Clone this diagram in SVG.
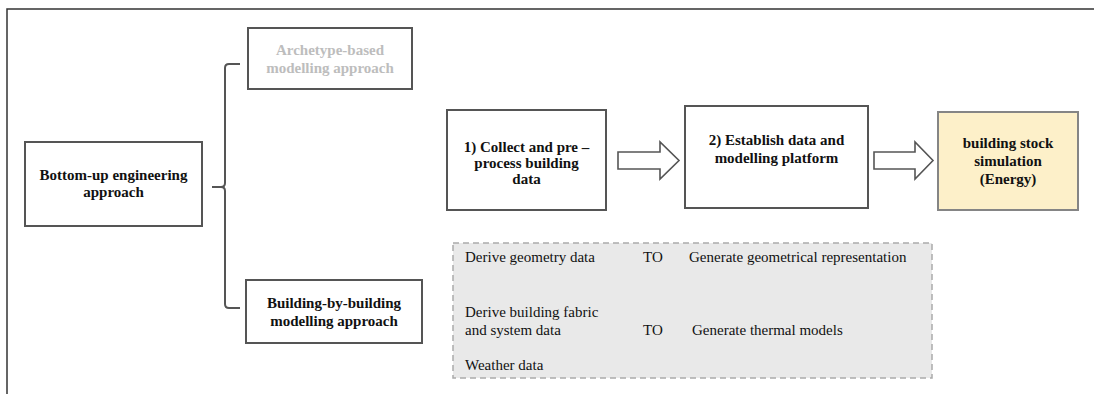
<svg xmlns="http://www.w3.org/2000/svg" width="1094" height="394" viewBox="0 0 1094 394">
  <defs>
    <style>
      .box { fill: #ffffff; stroke: #555555; stroke-width: 2; }
      .t { font-family: "Liberation Serif", "Times New Roman", serif; font-size: 15px; fill: #111111; }
      .b { font-weight: bold; text-anchor: middle; }
      .dim { fill: #bdbdbd; }
      .link { fill: none; stroke: #555555; stroke-width: 2; stroke-linejoin: round; }
      .blockarrow { fill: #ffffff; stroke: #555555; stroke-width: 1.6; stroke-linejoin: miter; }
    </style>
  </defs>

  <rect width="1094" height="394" fill="#ffffff"/>

  <!-- page frame -->
  <path d="M7,394 V9 H1094" fill="none" stroke="#333333" stroke-width="1.5"/>

  <g id="bottom-up">
    <rect class="box" x="25" y="142" width="177" height="84"/>
    <text class="t b" x="113.5" y="180">Bottom-up engineering</text>
    <text class="t b" x="113.5" y="197">approach</text>
  </g>

  <g id="archetype">
    <rect class="box" x="248" y="28" width="164" height="61"/>
    <text class="t b dim" x="330" y="55">Archetype-based</text>
    <text class="t b dim" x="330" y="73">modelling approach</text>
  </g>

  <g id="building-by-building">
    <rect class="box" x="246" y="280" width="176" height="63"/>
    <text class="t b" x="334" y="308">Building-by-building</text>
    <text class="t b" x="334" y="326">modelling approach</text>
  </g>

  <g id="step-collect">
    <rect class="box" x="447" y="110" width="159" height="100"/>
    <text class="t b" x="526.5" y="152">1) Collect and pre –</text>
    <text class="t b" x="526.5" y="168">process building</text>
    <text class="t b" x="526.5" y="184">data</text>
  </g>

  <g id="step-platform">
    <rect class="box" x="685" y="106" width="183" height="102"/>
    <text class="t b" x="776.5" y="145">2) Establish data and</text>
    <text class="t b" x="776.5" y="163">modelling platform</text>
  </g>

  <g id="simulation">
    <rect x="938" y="112" width="140" height="98" fill="#fdf0c9" stroke="#858585" stroke-width="2"/>
    <text class="t b" x="1008" y="148">building stock</text>
    <text class="t b" x="1008" y="166">simulation</text>
    <text class="t b" x="1008" y="184">(Energy)</text>
  </g>

  <g id="data-tasks">
    <rect x="453" y="243" width="479" height="135" fill="#e9e9e9" stroke="#aaaaaa" stroke-width="1.5" stroke-dasharray="6 4"/>
    <text class="t" x="465" y="262">Derive geometry data</text>
    <text class="t" x="643" y="262">TO</text>
    <text class="t" x="689" y="262">Generate geometrical representation</text>
    <text class="t" x="465" y="317">Derive building fabric</text>
    <text class="t" x="465" y="335">and system data</text>
    <text class="t" x="643" y="335">TO</text>
    <text class="t" x="692" y="335">Generate thermal models</text>
    <text class="t" x="465" y="370">Weather data</text>
  </g>

  <g id="connectors">
    <!-- curly brace splitting the bottom-up approach into two branches -->
    <path class="link" d="M240,64 H229 Q225,64 225,68 V183 Q225,187 221,187 H212 M221,187 Q225,187 225,191 V304 Q225,308 229,308 H240"/>
    <!-- hollow block arrows between the process steps -->
    <path class="blockarrow" d="M618,152 H660 V142 L679,160.5 L660,179 V169 H618 Z"/>
    <path class="blockarrow" d="M874,152 H915 V142 L933,160.5 L915,179 V169 H874 Z"/>
  </g>
</svg>
